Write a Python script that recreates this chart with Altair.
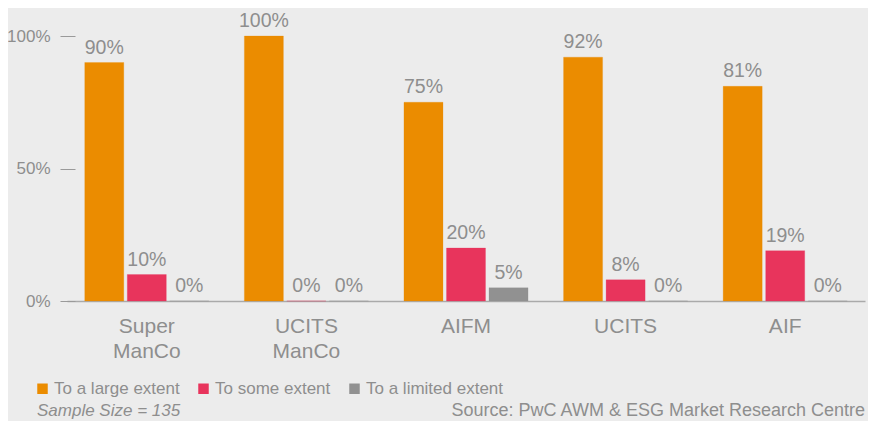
import altair as alt
import pandas as pd

categories = ["Super ManCo", "UCITS ManCo", "AIFM", "UCITS", "AIF"]
series = ["To a large extent", "To some extent", "To a limited extent"]
large_extent = [90, 100, 75, 92, 81]
some_extent = [10, 0, 20, 8, 19]
limited_extent = [0, 0, 5, 0, 0]
colors = ["#EB8C00", "#E8345C", "#919191"]
y_ticks = [0, 50, 100]

rows = []
for i, c in enumerate(categories):
    for s, vals in zip(series, [large_extent, some_extent, limited_extent]):
        rows.append({"category": c, "series": s, "value": vals[i]})
df = pd.DataFrame(rows)

FONT = "Liberation Sans"
TXT = "#8e8e8e"

x_enc = alt.X("category:N", sort=categories,
              scale=alt.Scale(paddingInner=0.2226, paddingOuter=0.1113),
              axis=alt.Axis(title=None, labelAngle=0, ticks=False, domain=True,
                            domainColor="#aaaaaa", domainWidth=1.5,
                            labelFontSize=21, labelColor=TXT, labelFont=FONT,
                            labelPadding=14, labelLineHeight=25,
                            labelExpr="split(datum.label, ' ')"))
xoff = alt.XOffset("series:N", sort=series,
                   scale=alt.Scale(paddingInner=0.0824, paddingOuter=0))
y_enc = alt.Y("value:Q", scale=alt.Scale(domain=[0, 100], nice=False),
              axis=alt.Axis(title=None, values=y_ticks, grid=False, domain=False,
                            tickSize=15, tickColor="#9a9a9a", tickWidth=1,
                            offset=-8, labelPadding=10, labelFontSize=17,
                            labelColor=TXT, labelFont=FONT,
                            labelExpr="datum.value + '%'"))
color_enc = alt.Color("series:N", sort=series,
                      scale=alt.Scale(domain=series, range=colors),
                      legend=alt.Legend(title=None, orient="none", legendX=-33,
                                        legendY=344, direction="horizontal",
                                        symbolType="square", symbolSize=110,
                                        symbolStrokeWidth=0,
                                        labelFontSize=17, labelFont=FONT,
                                        labelColor=TXT, columnPadding=15,
                                        labelOffset=3, padding=0))

bars = alt.Chart(df).mark_bar(strokeWidth=1, strokeOpacity=0.25).encode(
    x=x_enc, xOffset=xoff, y=y_enc, color=color_enc,
    stroke=alt.Stroke("series:N", scale=alt.Scale(domain=series, range=colors), legend=None),
)

labels = alt.Chart(df).mark_text(baseline="bottom", dy=-5, fontSize=19.5,
                                 font=FONT, color=TXT).encode(
    x=alt.X("category:N", sort=categories), xOffset=alt.XOffset("series:N", sort=series),
    y="value:Q",
    text=alt.Text("label:N"),
).transform_calculate(label="datum.value + '%'")

sample = alt.Chart(pd.DataFrame({"t": ["Sample Size = 135"]})).mark_text(
    align="left", baseline="middle", fontSize=17, fontStyle="italic",
    font=FONT, color=TXT).encode(x=alt.value(-30), y=alt.value(375), text="t:N")

source = alt.Chart(pd.DataFrame({"t": ["Source: PwC AWM & ESG Market Research Centre"]})).mark_text(
    align="right", baseline="middle", fontSize=18,
    font=FONT, color=TXT).encode(x=alt.value(798), y=alt.value(375), text="t:N")

chart = alt.layer(bars, labels, sample, source).properties(
    width=798, height=265,
    autosize=alt.AutoSizeParams(type="none"),
    padding={"left": 59, "top": 28, "right": 3, "bottom": 120},
    background="#ececec",
).configure_view(stroke=None)

chart.save("out.html", embed_options={"renderer": "svg", "actions": False})
